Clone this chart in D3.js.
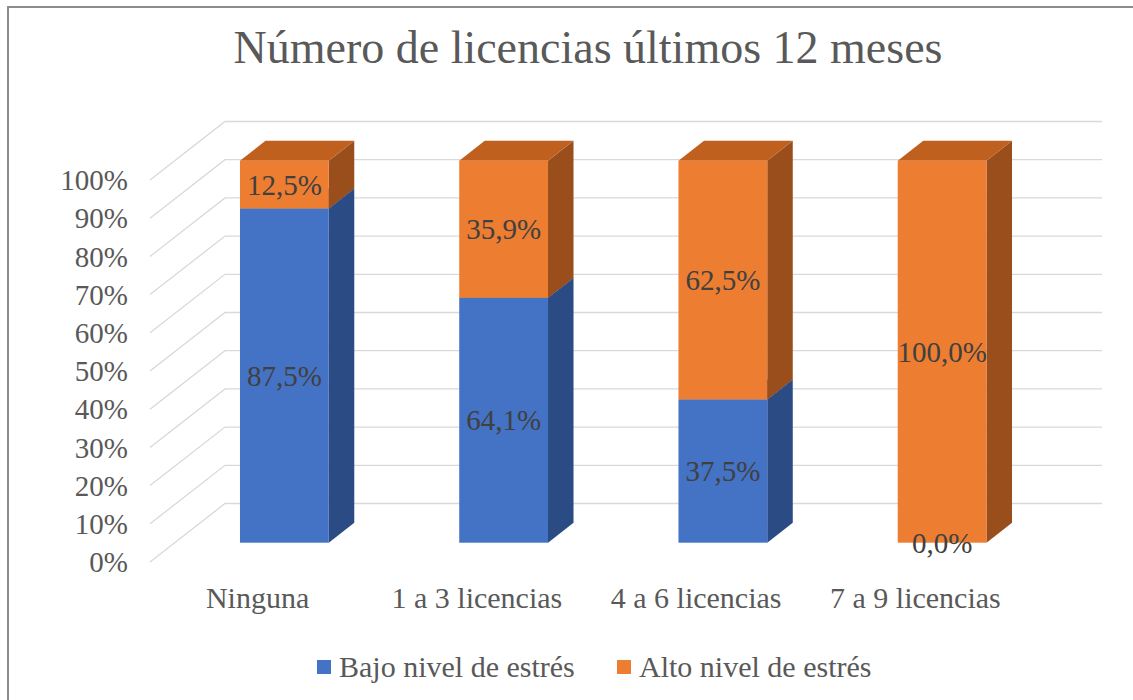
<!DOCTYPE html>
<html>
<head>
<meta charset="utf-8">
<script src="https://cdn.jsdelivr.net/npm/d3@7"></script>
<style>
  body { margin: 0; background: #fff; }
</style>
</head>
<body>
<div id="chart"></div>
<script>
/* Data */
const categories = ["Ninguna", "1 a 3 licencias", "4 a 6 licencias", "7 a 9 licencias"];
const seriesNames = ["Bajo nivel de estrés", "Alto nivel de estrés"];
const bajo = [0.875, 0.641, 0.375, 0.0];
const alto = [0.125, 0.359, 0.625, 1.0];
const yTicks = [0, 0.1, 0.2, 0.3, 0.4, 0.5, 0.6, 0.7, 0.8, 0.9, 1.0];

/* Layout */
const W = 1133, H = 700;
const depth = { dx: 75, dy: -58.5 };   // full depth of the 3D box
const barFront = 0.33, barBack = 0.67;  // bar position inside the depth
const FONT = '"Liberation Serif"';

const x = d3.scaleBand().domain(categories).range([150, 1027]).paddingInner(0.595).paddingOuter(0.2975);
const y = d3.scaleLinear().domain([0, 1]).range([562, 180]);
const pct = d3.format(".0%");
const lab = v => d3.format(".1%")(v).replace(".", ",");

/* Colours: front, top, side */
const colors = [
    { front: "#4472c4", top: "#3a62a8", side: "#2b4b84" },
    { front: "#ed7d31", top: "#c0601f", side: "#9a4e1c" }
];

const svg = d3.select("#chart").append("svg")
    .attr("width", W).attr("height", H);

svg.append("rect").attr("width", W).attr("height", H).attr("fill", "#fff");

// outer frame (top + left visible)
svg.append("path")
    .attr("d", "M8,700 L8,7 L1133,7")
    .attr("fill", "none").attr("stroke", "#8c8c8c").attr("stroke-width", 2);

// title
svg.append("text")
    .attr("x", 588).attr("y", 63)
    .attr("text-anchor", "middle")
    .attr("font-size", 46)
    .attr("fill", "#595959")
    .style("font-family", FONT)
    .text("Número de licencias últimos 12 meses");

/* Gridlines: side wall diagonal + back wall horizontal */
const grid = svg.append("g").attr("stroke", "#d9d9d9").attr("stroke-width", 1.3).attr("fill", "none");
yTicks.forEach(t => {
    const yf = y(t);
    grid.append("path")
        .attr("d", `M150,${yf} L${150 + depth.dx},${yf + depth.dy} L${1027 + depth.dx},${yf + depth.dy}`);
});

/* Y labels */
svg.append("g").selectAll("text").data(yTicks).join("text")
    .attr("x", 128).attr("y", d => y(d))
    .attr("dy", "0.35em")
    .attr("text-anchor", "end")
    .attr("font-size", 29)
    .attr("fill", "#595959")
    .style("font-family", FONT)
    .text(d => pct(d));

/* Category labels */
svg.append("g").selectAll("text").data(categories).join("text")
    .attr("x", d => x(d) + x.bandwidth() / 2 - 2)
    .attr("y", 597)
    .attr("dy", "0.35em")
    .attr("text-anchor", "middle")
    .attr("font-size", 30)
    .attr("fill", "#595959")
    .style("font-family", FONT)
    .text(d => d);

/* Stacked 3D bars */
const stacked = categories.map((c, i) => {
    const v = [bajo[i], alto[i]];
    let acc = 0;
    return v.map((val, s) => { const seg = { cat: c, s, v: val, y0: acc, y1: acc + val }; acc += val; return seg; });
});

const fx = d3.scaleLinear().domain([0, 1]).range([0, depth.dx]);
const fy = d3.scaleLinear().domain([0, 1]).range([0, depth.dy]);

const bars = svg.append("g");
stacked.forEach(segs => {
    segs.forEach(seg => {
        if (seg.v <= 0) return;
        const x0 = x(seg.cat) + fx(barFront), x1 = x0 + x.bandwidth();
        const yb = y(seg.y0) + fy(barFront), yt = y(seg.y1) + fy(barFront);
        const ddx = fx(barBack) - fx(barFront), ddy = fy(barBack) - fy(barFront);
        const c = colors[seg.s];
        // side
        bars.append("path")
            .attr("d", `M${x1},${yb} L${x1 + ddx},${yb + ddy} L${x1 + ddx},${yt + ddy} L${x1},${yt} Z`)
            .attr("fill", c.side);
        // top
        bars.append("path")
            .attr("d", `M${x0},${yt} L${x0 + ddx},${yt + ddy} L${x1 + ddx},${yt + ddy} L${x1},${yt} Z`)
            .attr("fill", c.top);
        // front
        bars.append("rect")
            .attr("x", x0).attr("y", yt)
            .attr("width", x1 - x0).attr("height", yb - yt)
            .attr("fill", c.front);
    });
});

/* Data labels */
const labels = svg.append("g");
stacked.forEach(segs => {
    segs.forEach(seg => {
        const cx = x(seg.cat) + fx(barFront) + x.bandwidth() / 2;
        const cy = (y(seg.y0) + y(seg.y1)) / 2 + fy(barFront);
        labels.append("text")
            .attr("x", cx).attr("y", cy)
            .attr("dy", "0.35em")
            .attr("text-anchor", "middle")
            .attr("font-size", 29)
            .attr("fill", "#404040")
            .style("font-family", FONT)
            .text(lab(seg.v));
    });
});

/* Legend */
const legend = svg.append("g");
const legendX = [317, 617];
seriesNames.forEach((name, i) => {
    legend.append("rect")
        .attr("x", legendX[i]).attr("y", 660)
        .attr("width", 14).attr("height", 14)
        .attr("fill", colors[i].front);
    legend.append("text")
        .attr("x", legendX[i] + 22).attr("y", 666)
        .attr("dy", "0.35em")
        .attr("font-size", 30)
        .attr("fill", "#595959")
        .style("font-family", FONT)
        .text(name);
});
</script>
</body>
</html>
